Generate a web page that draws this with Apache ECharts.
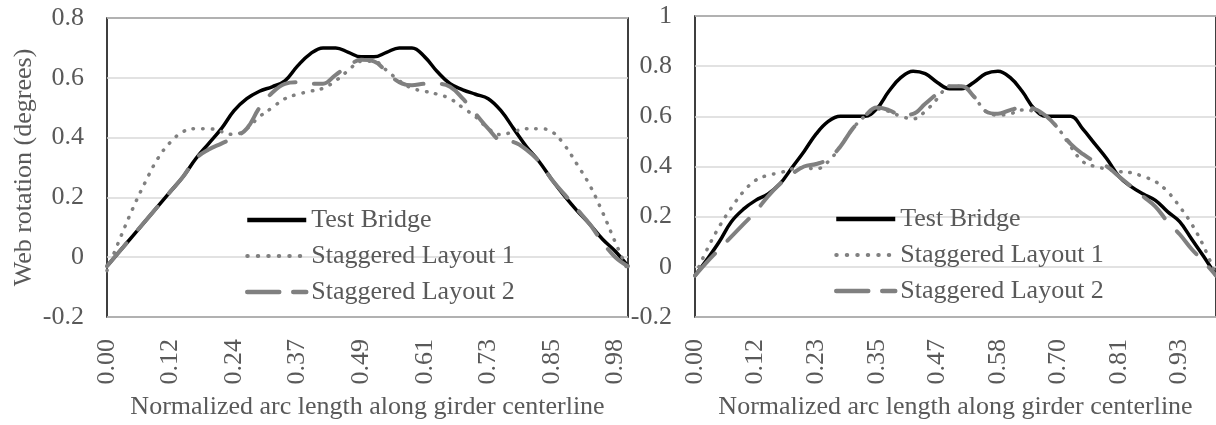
<!DOCTYPE html>
<html>
<head>
<meta charset="utf-8">
<title>Web rotation</title>
<script src="https://cdn.jsdelivr.net/npm/echarts@6.0.0/dist/echarts.min.js"></script>
<style>
  html, body { margin: 0; padding: 0; background: #fff; }
  #main { width: 1216px; height: 425px; }
</style>
</head>
<body>
<div id="main"></div>
<script type="text/javascript">
// left panel - 42 stations along the girder
var catLeft = ['0.00','0.02','0.05','0.07','0.10','0.12','0.15','0.17','0.20','0.22',
  '0.24','0.27','0.29','0.32','0.34','0.37','0.39','0.41','0.44','0.46',
  '0.49','0.51','0.54','0.56','0.59','0.61','0.63','0.66','0.68','0.71',
  '0.73','0.76','0.78','0.80','0.83','0.85','0.88','0.90','0.93','0.95','0.98','1.00'];
var testLeft = [-0.03,0.02,0.07,0.12,0.17,0.22,0.27,0.33,0.38,0.43,
  0.49,0.53,0.555,0.57,0.59,0.64,0.68,0.70,0.70,0.685,
  0.67,0.67,0.685,0.70,0.70,0.67,0.62,0.58,0.56,0.545,
  0.53,0.49,0.43,0.37,0.32,0.26,0.205,0.155,0.11,0.06,0.02,-0.03];
var lay1Left = [-0.045,0.06,0.16,0.25,0.33,0.385,0.42,0.43,0.43,0.42,
  0.41,0.43,0.47,0.50,0.53,0.545,0.555,0.565,0.59,0.625,
  0.655,0.655,0.625,0.59,0.565,0.555,0.545,0.53,0.50,0.47,
  0.43,0.41,0.42,0.43,0.43,0.42,0.375,0.31,0.24,0.15,0.05,-0.045];
var lay2Left = [-0.03,0.02,0.07,0.12,0.17,0.22,0.27,0.33,0.36,0.38,
  0.40,0.43,0.50,0.55,0.58,0.585,0.58,0.58,0.61,0.64,
  0.66,0.655,0.62,0.585,0.575,0.58,0.58,0.57,0.53,0.48,
  0.43,0.39,0.385,0.36,0.32,0.26,0.21,0.16,0.11,0.05,0.0,-0.03];

// right panel - 44 stations
var catRight = ['0.00','0.02','0.05','0.07','0.09','0.12','0.14','0.16','0.19','0.21',
  '0.23','0.26','0.28','0.30','0.33','0.35','0.37','0.40','0.42','0.44',
  '0.47','0.49','0.51','0.53','0.56','0.58','0.60','0.63','0.65','0.67',
  '0.70','0.72','0.74','0.77','0.79','0.81','0.84','0.86','0.88','0.91',
  '0.93','0.95','0.98','1.00'];
var testRight = [-0.035,0.03,0.10,0.18,0.23,0.265,0.29,0.33,0.395,0.46,
  0.53,0.58,0.60,0.60,0.60,0.63,0.70,0.755,0.78,0.77,
  0.735,0.71,0.71,0.735,0.77,0.78,0.755,0.70,0.63,0.60,
  0.60,0.60,0.55,0.49,0.43,0.36,0.32,0.29,0.265,0.22,
  0.18,0.11,0.04,-0.035];
var lay1Right = [-0.035,0.07,0.16,0.235,0.30,0.345,0.365,0.375,0.39,0.395,
  0.39,0.42,0.48,0.55,0.60,0.63,0.62,0.60,0.59,0.62,
  0.67,0.72,0.72,0.68,0.62,0.605,0.61,0.625,0.62,0.60,
  0.55,0.48,0.42,0.40,0.39,0.38,0.375,0.36,0.34,0.30,
  0.24,0.17,0.08,-0.035];
var lay2Right = [-0.035,0.02,0.07,0.12,0.17,0.22,0.28,0.33,0.37,0.40,
  0.41,0.43,0.48,0.55,0.60,0.635,0.625,0.605,0.61,0.65,
  0.69,0.72,0.72,0.68,0.62,0.61,0.625,0.635,0.63,0.60,
  0.55,0.49,0.45,0.42,0.40,0.36,0.32,0.28,0.24,0.18,
  0.13,0.07,0.02,-0.035];

var seriesNames = ['Test Bridge','Staggered Layout 1','Staggered Layout 2'];
var yTitle = 'Web rotation (degrees)';
var xTitle = 'Normalized arc length along girder centerline';

var FONT = 'Liberation Serif';
var TXT = '#595959';

var styles = [
  { color: '#000000', width: 3.5, type: 'solid' },
  { color: '#808080', width: 3.5, type: [0.5, 9], cap: 'round' },
  { color: '#808080', width: 4, type: [30, 18], cap: 'round' }
];
// legend swatches look a bit heavier than the plotted lines
var legendStyles = [
  { color: '#000000', width: 4.5, type: 'solid' },
  { color: '#808080', width: 4, type: [0.5, 10], cap: 'round' },
  { color: '#808080', width: 4.5, type: [32, 14], cap: 'round' }
];

function xAxisOf(idx, cats, title) {
  return {
    type: 'category', gridIndex: idx, data: cats, boundaryGap: false,
    axisLine: { show: false }, axisTick: { show: false },
    axisLabel: { interval: 4, rotate: 90, margin: 22, fontFamily: FONT, fontSize: 26, color: TXT },
    name: title, nameLocation: 'middle', nameGap: 77,
    nameTextStyle: { fontFamily: FONT, fontSize: 26, color: TXT }
  };
}
function yAxisOf(idx, max, title) {
  var a = {
    type: 'value', gridIndex: idx, min: -0.2, max: max, interval: 0.2,
    axisLine: { show: false }, axisTick: { show: false },
    axisLabel: { margin: 23, fontFamily: FONT, fontSize: 26, color: TXT },
    splitLine: { lineStyle: { color: '#d9d9d9', width: 1.5 } }
  };
  if (title) {
    a.name = title; a.nameLocation = 'middle'; a.nameGap = 70; a.nameRotate = 90;
    a.nameTextStyle = { fontFamily: FONT, fontSize: 26, color: TXT };
  }
  return a;
}
function lineSeries(k, idx, data) {
  return {
    name: seriesNames[k], type: 'line', xAxisIndex: idx, yAxisIndex: idx, data: data,
    smooth: 0.4, symbol: 'none', showSymbol: false,
    color: styles[k].color, itemStyle: { color: styles[k].color },
    lineStyle: styles[k]
  };
}
function legendOf(left, top) {
  var items = [];
  for (var k = 0; k < seriesNames.length; k++) {
    items.push({ name: seriesNames[k], lineStyle: legendStyles[k], itemStyle: { opacity: 0 } });
  }
  return {
    orient: 'vertical', left: left, top: top, data: items, padding: 0,
    itemWidth: 59, itemHeight: 14, itemGap: 10,
    textStyle: { fontFamily: FONT, fontSize: 26, color: TXT, lineHeight: 26 }
  };
}

var chart = echarts.init(document.getElementById('main'));
var option = {
  animation: false,
  backgroundColor: '#ffffff',
  grid: [
    { left: 107, top: 18, width: 521, height: 301, show: true, borderColor: '#000', borderWidth: 1.5 },
    { left: 695, top: 16, width: 521, height: 302, show: true, borderColor: '#000', borderWidth: 1.5 }
  ],
  xAxis: [xAxisOf(0, catLeft, xTitle), xAxisOf(1, catRight, xTitle)],
  yAxis: [yAxisOf(0, 0.8, yTitle), yAxisOf(1, 1, null)],
  legend: [legendOf(245, 207), legendOf(834, 206)],
  series: [
    lineSeries(0, 0, testLeft),
    lineSeries(1, 0, lay1Left),
    lineSeries(2, 0, lay2Left),
    lineSeries(0, 1, testRight),
    lineSeries(1, 1, lay1Right),
    lineSeries(2, 1, lay2Right)
  ]
};
chart.setOption(option);
</script>
</body>
</html>
